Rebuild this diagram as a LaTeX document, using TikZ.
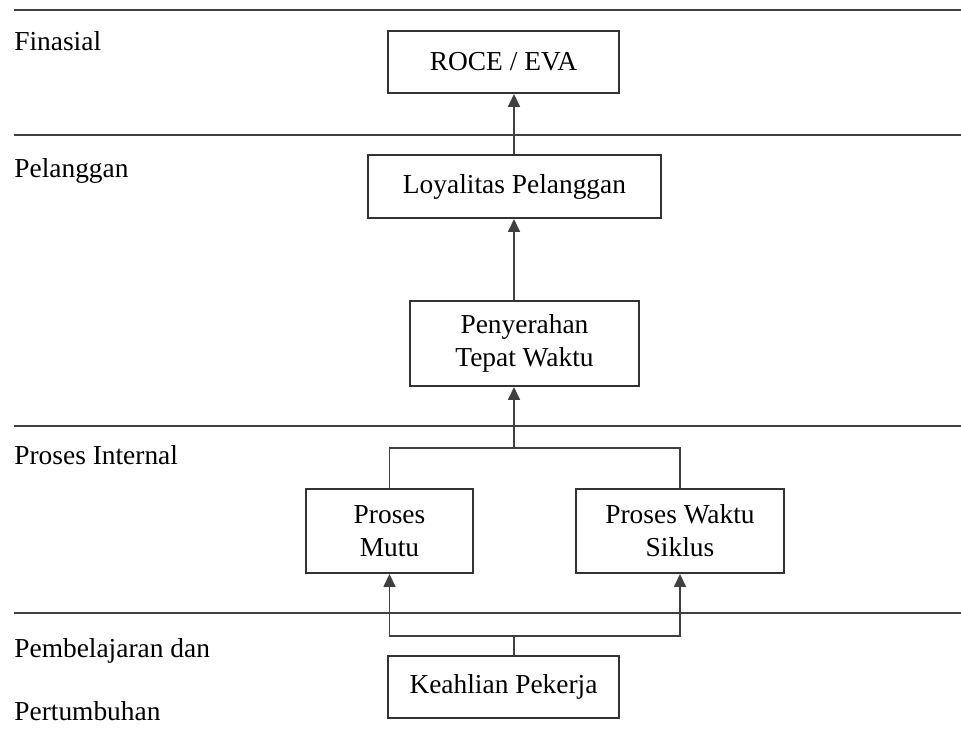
\documentclass[tikz,border=0pt]{standalone}
\usepackage{fontspec}
\setmainfont{Liberation Serif}
\usetikzlibrary{arrows.meta}
\tikzset{>={Triangle[length=0.26cm,width=0.24cm]}}
\tikzset{
  teks/.style={font=\fontsize{15.6}{18.8}\selectfont},
  kotak/.style={teks, draw=black!80, line width=0.04cm, inner sep=0pt, align=center},
  lapis/.style={teks, anchor=base west, inner sep=0pt},
  batas/.style={draw=black!75, line width=0.05cm},
  garis/.style={draw=black!75, line width=0.035cm},
  panah/.style={garis, ->},
}

\begin{document}
\begin{tikzpicture}[x=0.02cm, y=-0.02cm]
	\useasboundingbox (0,0) rectangle (961,735);
	% garis pembatas perspektif
	\foreach \y in {10,135,426,613}
		\draw[batas] (14,\y) -- (961,\y);

	% nama perspektif
	\node[lapis] (lfin) at (14,50) {Finasial};
	\node[lapis] (lpel) at (14,177) {Pelanggan};
	\node[lapis] (lpro) at (14,464) {Proses Internal};
	\node[lapis] (lpem) at (14,657) {Pembelajaran dan};
	\node[lapis] (lper) at (14,720) {Pertumbuhan};

	% sasaran
	\node[kotak, minimum width=4.62cm, minimum height=1.24cm] (roce) at (503.5,62) {ROCE / EVA};
	\node[kotak, minimum width=5.86cm, minimum height=1.26cm] (loyal) at (514.5,186.5) {Loyalitas Pelanggan};
	\node[kotak, minimum width=4.58cm, minimum height=1.70cm] (serah) at (524.5,343.5) {Penyerahan\\Tepat Waktu};
	\node[kotak, minimum width=3.34cm, minimum height=1.68cm] (mutu) at (389.5,531) {Proses\\Mutu};
	\node[kotak, minimum width=4.16cm, minimum height=1.68cm] (siklus) at (680,531) {Proses Waktu\\Siklus};
	\node[kotak, minimum width=4.62cm, minimum height=1.24cm] (ahli) at (503.5,687) {Keahlian Pekerja};

	\coordinate (tengah) at (514,0);
	\coordinate (cabatas) at (514,448);
	\coordinate (cabbawah) at (514,636);

	% hubungan sebab akibat
	\draw[panah] (loyal.north -| tengah) -- (roce.south -| tengah);
	\draw[panah] (serah.north -| tengah) -- (loyal.south -| tengah);
	\draw[panah] (cabatas) -- (serah.south -| tengah);
	\draw[garis] (mutu.north) |- (cabatas) -| (siklus.north);
	\draw[garis] (ahli.north -| tengah) -- (cabbawah);
	\draw[panah] (cabbawah) -| (mutu.south);
	\draw[panah] (cabbawah) -| (siklus.south);
\end{tikzpicture}
\end{document}
